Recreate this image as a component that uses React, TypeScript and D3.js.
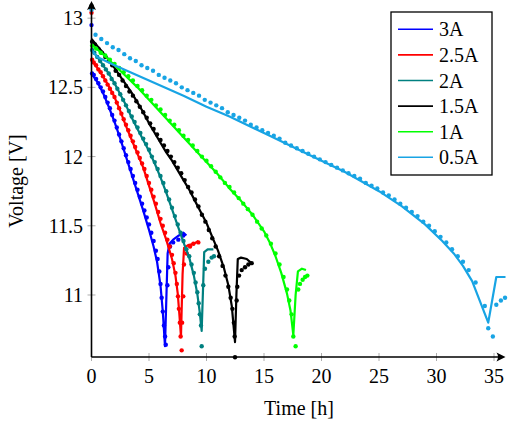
import * as d3 from "d3";
import React from "react";

const W = 512;
const H = 426;
const FONT = "Liberation Serif, DejaVu Serif, Times New Roman, serif";

const currents = ["3A", "2.5A", "2A", "1.5A", "1A", "0.5A"];
const colors = ["#0000ff", "#ff0000", "#008080", "#000000", "#00ff00", "#18a4e4"];
const xTicks = [0, 5, 10, 15, 20, 25, 30, 35];
const yTicks = [11, 11.5, 12, 12.5, 13];

// model curves [time h, voltage V]
const model3A = [[0, 12.6], [0.5, 12.54], [1, 12.46], [1.5, 12.36], [2, 12.25], [2.5, 12.13], [3, 12.0], [3.5, 11.87], [4, 11.74], [4.5, 11.61], [5, 11.47], [5.4, 11.35], [5.7, 11.24], [6.0, 11.07], [6.2, 10.88], [6.39, 10.63], [6.62, 11.3], [6.78, 11.37], [7.1, 11.4], [7.6, 11.43], [8.0, 11.45], [8.25, 11.43]];
const model25A = [[0, 12.7], [0.5, 12.64], [1, 12.58], [1.5, 12.51], [2, 12.43], [2.5, 12.33], [3, 12.22], [3.5, 12.12], [4, 12.02], [4.5, 11.92], [5, 11.79], [5.5, 11.66], [6, 11.52], [6.5, 11.4], [7, 11.26], [7.3, 11.14], [7.5, 11.01], [7.65, 10.85], [7.78, 10.7], [7.92, 11.15], [8.05, 11.34], [8.4, 11.36], [8.9, 11.37], [9.3, 11.39]];
const model2A = [[0, 12.77], [0.5, 12.72], [1, 12.66], [1.5, 12.6], [2, 12.53], [2.5, 12.45], [3, 12.37], [3.5, 12.28], [4, 12.2], [4.5, 12.12], [5, 12.04], [5.5, 11.95], [6, 11.85], [6.5, 11.74], [7, 11.62], [7.5, 11.5], [8, 11.38], [8.5, 11.27], [8.9, 11.14], [9.2, 11.01], [9.42, 10.87], [9.58, 10.74], [9.72, 11.1], [9.8, 11.31], [10.1, 11.33], [10.6, 11.33]];
const model15A = [[0, 12.85], [0.5, 12.8], [1, 12.75], [1.5, 12.7], [2, 12.64], [2.5, 12.58], [3, 12.52], [3.5, 12.46], [4, 12.39], [4.5, 12.32], [5, 12.24], [5.5, 12.17], [6, 12.1], [6.5, 12.03], [7, 11.97], [7.5, 11.9], [8, 11.83], [8.5, 11.76], [9, 11.68], [9.5, 11.6], [10, 11.52], [10.5, 11.42], [11, 11.32], [11.5, 11.2], [11.9, 11.07], [12.2, 10.92], [12.48, 10.66], [12.6, 11.0], [12.72, 11.26], [13.0, 11.27], [13.5, 11.26], [13.9, 11.23]];
const model1A = [[0, 12.81], [1, 12.74], [2, 12.66], [3, 12.58], [4, 12.5], [5, 12.41], [6, 12.32], [7, 12.23], [8, 12.14], [9, 12.05], [10, 11.96], [11, 11.87], [12, 11.77], [13, 11.68], [14, 11.58], [15, 11.46], [15.5, 11.38], [16, 11.28], [16.5, 11.16], [17, 11.01], [17.3, 10.89], [17.55, 10.71], [17.75, 11.0], [17.95, 11.17], [18.3, 11.19], [18.65, 11.18]];
const model05A = [[0, 12.77], [0.5, 12.72], [2, 12.66], [5, 12.55], [8, 12.44], [10, 12.36], [12, 12.29], [15.5, 12.15], [19, 12.01], [22, 11.89], [25, 11.75], [27, 11.64], [29, 11.51], [30.5, 11.39], [31.5, 11.3], [32.3, 11.21], [33.1, 11.1], [33.8, 10.95], [34.5, 10.8], [35.2, 11.13], [36, 11.13]];

// measured points [time h, voltage V]
const meas3A = [[0, 12.95], [0.05, 12.6], [0.2, 12.59], [0.4, 12.56], [0.6, 12.53], [0.8, 12.5], [1.0, 12.47], [1.2, 12.43], [1.4, 12.39], [1.6, 12.35], [1.8, 12.3], [2.0, 12.26], [2.2, 12.21], [2.4, 12.16], [2.6, 12.11], [2.8, 12.06], [3.0, 12.01], [3.2, 11.96], [3.4, 11.91], [3.6, 11.86], [3.8, 11.81], [4.0, 11.76], [4.2, 11.71], [4.4, 11.66], [4.6, 11.61], [4.8, 11.56], [5.0, 11.51], [5.2, 11.45], [5.4, 11.39], [5.6, 11.32], [5.75, 11.26], [5.9, 11.17], [6.0, 11.08], [6.1, 10.98], [6.2, 10.88], [6.3, 10.78], [6.4, 10.7], [6.46, 10.64], [6.6, 11.07], [6.68, 11.2], [6.83, 11.35], [7.1, 11.38], [7.55, 11.4], [7.98, 11.43]];
const meas25A = [[0, 13.04], [0.05, 12.7], [0.2, 12.68], [0.4, 12.66], [0.6, 12.63], [0.8, 12.61], [1.0, 12.58], [1.2, 12.55], [1.4, 12.52], [1.6, 12.49], [1.8, 12.46], [2.0, 12.43], [2.2, 12.39], [2.4, 12.35], [2.6, 12.31], [2.8, 12.27], [3.0, 12.23], [3.2, 12.19], [3.4, 12.15], [3.6, 12.11], [3.8, 12.07], [4.0, 12.03], [4.2, 11.99], [4.4, 11.95], [4.6, 11.91], [4.8, 11.86], [5.0, 11.81], [5.2, 11.76], [5.4, 11.71], [5.6, 11.66], [5.8, 11.6], [6.0, 11.55], [6.2, 11.5], [6.4, 11.45], [6.6, 11.4], [6.8, 11.35], [7.0, 11.29], [7.15, 11.23], [7.3, 11.16], [7.42, 11.08], [7.52, 10.99], [7.6, 10.9], [7.68, 10.8], [7.75, 10.7], [7.84, 10.6], [7.88, 10.8], [7.98, 10.99], [8.04, 11.22], [8.28, 11.3], [8.57, 11.35], [8.86, 11.37], [9.29, 11.38]];
const meas2A = [[0, 13.07], [0.05, 12.77], [0.25, 12.75], [0.5, 12.72], [0.75, 12.69], [1.0, 12.66], [1.25, 12.63], [1.5, 12.6], [1.75, 12.56], [2.0, 12.53], [2.25, 12.49], [2.5, 12.45], [2.75, 12.41], [3.0, 12.37], [3.25, 12.33], [3.5, 12.29], [3.75, 12.25], [4.0, 12.21], [4.25, 12.17], [4.5, 12.13], [4.75, 12.09], [5.0, 12.05], [5.25, 12.0], [5.5, 11.96], [5.75, 11.91], [6.0, 11.86], [6.25, 11.81], [6.5, 11.75], [6.75, 11.69], [7.0, 11.63], [7.25, 11.57], [7.5, 11.51], [7.75, 11.45], [8.0, 11.39], [8.25, 11.33], [8.5, 11.28], [8.7, 11.22], [8.9, 11.16], [9.05, 11.09], [9.2, 11.02], [9.32, 10.94], [9.42, 10.86], [9.52, 10.78], [9.58, 10.63], [9.72, 11.07], [9.87, 11.19], [10.16, 11.24], [10.45, 11.27], [10.65, 11.28]];
const meas15A = [[0, 13.09], [0.05, 12.83], [0.3, 12.81], [0.6, 12.78], [0.9, 12.75], [1.2, 12.72], [1.5, 12.69], [1.8, 12.66], [2.1, 12.62], [2.4, 12.59], [2.7, 12.55], [3.0, 12.51], [3.3, 12.47], [3.6, 12.44], [3.9, 12.4], [4.2, 12.36], [4.5, 12.32], [4.8, 12.28], [5.1, 12.24], [5.4, 12.2], [5.7, 12.16], [6.0, 12.12], [6.3, 12.08], [6.6, 12.04], [6.9, 12.0], [7.2, 11.96], [7.5, 11.92], [7.8, 11.88], [8.1, 11.83], [8.4, 11.78], [8.7, 11.74], [9.0, 11.69], [9.3, 11.64], [9.6, 11.58], [9.9, 11.53], [10.2, 11.47], [10.5, 11.41], [10.8, 11.35], [11.1, 11.28], [11.4, 11.21], [11.65, 11.14], [11.9, 11.06], [12.1, 10.98], [12.25, 10.9], [12.38, 10.8], [12.45, 10.7], [12.48, 10.55], [12.62, 10.96], [12.68, 11.06], [12.83, 11.14], [13.06, 11.18], [13.35, 11.2], [13.64, 11.22], [13.93, 11.23]];
const meas1A = [[0, 13.08], [0.05, 12.8], [0.4, 12.78], [0.8, 12.75], [1.2, 12.73], [1.6, 12.7], [2.0, 12.67], [2.4, 12.64], [2.8, 12.61], [3.2, 12.58], [3.6, 12.55], [4.0, 12.51], [4.4, 12.48], [4.8, 12.44], [5.2, 12.41], [5.6, 12.37], [6.0, 12.34], [6.4, 12.3], [6.8, 12.26], [7.2, 12.23], [7.6, 12.19], [8.0, 12.15], [8.4, 12.12], [8.8, 12.08], [9.2, 12.04], [9.6, 12.0], [10.0, 11.97], [10.4, 11.93], [10.8, 11.89], [11.2, 11.85], [11.6, 11.81], [12.0, 11.78], [12.4, 11.74], [12.8, 11.7], [13.2, 11.66], [13.6, 11.62], [14.0, 11.58], [14.4, 11.53], [14.8, 11.48], [15.2, 11.43], [15.6, 11.37], [16.0, 11.3], [16.35, 11.22], [16.7, 11.13], [17.0, 11.04], [17.2, 10.96], [17.4, 10.86], [17.55, 10.7], [17.75, 10.63], [17.98, 11.04], [18.13, 11.08], [18.36, 11.11], [18.57, 11.13], [18.77, 11.14]];
const meas05A = [[0, 13.06], [0.35, 12.88], [0.85, 12.85], [1.35, 12.82], [1.85, 12.79], [2.35, 12.77], [2.85, 12.74], [3.35, 12.71], [3.85, 12.69], [4.35, 12.66], [4.85, 12.64], [5.35, 12.62], [5.85, 12.59], [6.35, 12.57], [6.85, 12.55], [7.35, 12.53], [7.85, 12.5], [8.35, 12.48], [8.85, 12.46], [9.35, 12.44], [9.85, 12.41], [10.35, 12.39], [10.85, 12.37], [11.35, 12.35], [11.85, 12.32], [12.35, 12.3], [12.85, 12.28], [13.35, 12.26], [13.85, 12.23], [14.35, 12.21], [14.85, 12.19], [15.35, 12.17], [15.85, 12.15], [16.35, 12.13], [16.85, 12.1], [17.35, 12.08], [17.85, 12.06], [18.35, 12.04], [18.85, 12.02], [19.35, 12.0], [19.85, 11.98], [20.35, 11.96], [20.85, 11.94], [21.35, 11.92], [21.85, 11.9], [22.35, 11.88], [22.85, 11.86], [23.35, 11.84], [23.85, 11.81], [24.35, 11.79], [24.85, 11.77], [25.35, 11.74], [25.85, 11.72], [26.35, 11.69], [26.85, 11.66], [27.35, 11.63], [27.85, 11.6], [28.35, 11.57], [28.85, 11.53], [29.35, 11.5], [29.85, 11.46], [30.35, 11.42], [30.85, 11.38], [31.35, 11.33], [31.85, 11.28], [32.3, 11.24], [32.8, 11.18], [33.4, 11.09], [34.2, 10.92], [34.5, 10.76], [34.9, 10.7], [35.2, 10.93], [35.6, 10.96], [35.96, 10.98]];

const models = [model3A, model25A, model2A, model15A, model1A, model05A];
const measured = [meas3A, meas25A, meas2A, meas15A, meas1A, meas05A];

const txt = { fontFamily: FONT, fill: "#000" };

export default function App() {
  const x = d3.scaleLinear().domain([0, 36]).range([91.5, 505.5]);
  const y = d3.scaleLinear().domain([10.552, 13.124]).range([357, 1]);
  const line = d3.line<number[]>().x(d => x(d[0])).y(d => y(d[1]));

  const x0 = x(0);
  const yBase = y(10.552);
  const xEnd = x(36);
  const yTop = y(13.124);

  return (
    <svg width={W} height={H} style={{ position: "absolute", left: 0, top: 0, background: "#fff" }}>
      {/* ticks */}
      {xTicks.map(t => (
        <g key={"xt" + t}>
          <line x1={x(t)} x2={x(t)} y1={yBase - 4} y2={yBase + 4} stroke="#999" strokeWidth={0.8} />
          <text x={x(t)} y={383} fontSize={20} textAnchor="middle" style={txt}>{t}</text>
        </g>
      ))}
      {yTicks.map(t => (
        <g key={"yt" + t}>
          <line x1={x0 - 4} x2={x0 + 4} y1={y(t)} y2={y(t)} stroke="#999" strokeWidth={0.8} />
          <text x={83} y={y(t)} dy="0.35em" fontSize={20} textAnchor="end" style={txt}>{t}</text>
        </g>
      ))}

      {/* series */}
      {currents.map((c, i) => (
        <g key={c}>
          <path d={line(models[i]) || ""} fill="none" stroke={colors[i]} strokeWidth={2.2} strokeLinejoin="round" />
          {measured[i].map((p, j) => (
            <circle key={j} cx={x(p[0])} cy={y(p[1])} r={2.2} fill={colors[i]} />
          ))}
        </g>
      ))}

      {/* axis lines with arrows */}
      <line x1={x0} x2={xEnd - 4} y1={yBase} y2={yBase} stroke="#000" strokeWidth={1.6} />
      <path d={`M${xEnd},${yBase} L${xEnd - 9},${yBase - 4.5} Q${xEnd - 6},${yBase} ${xEnd - 9},${yBase + 4.5} Z`} fill="#000" />
      <line x1={x0} x2={x0} y1={yBase} y2={yTop + 4} stroke="#000" strokeWidth={1.6} />
      <path d={`M${x0},${yTop} L${x0 - 4.5},${yTop + 9} Q${x0},${yTop + 6} ${x0 + 4.5},${yTop + 9} Z`} fill="#000" />

      {/* axis labels */}
      <text x={299} y={415} fontSize={20} textAnchor="middle" style={txt}>Time [h]</text>
      <text transform={`translate(23, 181) rotate(-90)`} fontSize={20} textAnchor="middle" style={txt}>Voltage [V]</text>

      {/* legend */}
      <g>
        <rect x={391} y={12} width={101} height={163} fill="#fff" stroke="#000" strokeWidth={1.3} />
        {currents.map((c, i) => {
          const ly = 29.3 + i * 25.6;
          return (
            <g key={"lg" + c}>
              <line x1={398} x2={433} y1={ly} y2={ly} stroke={colors[i]} strokeWidth={1.6} />
              <text x={439} y={ly} dy="0.35em" fontSize={20} style={txt}>{c}</text>
            </g>
          );
        })}
      </g>
    </svg>
  );
}
